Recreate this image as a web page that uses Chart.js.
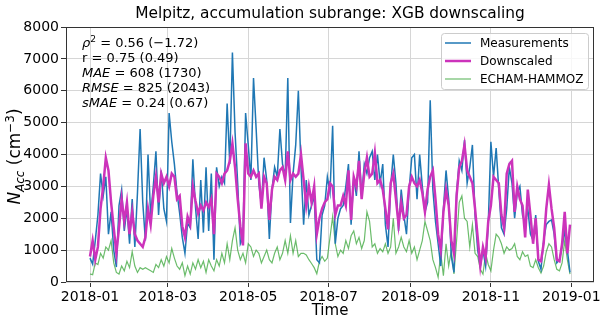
<!DOCTYPE html>
<html>
<head>
<meta charset="utf-8">
<script src="https://cdn.jsdelivr.net/npm/chart.js@4.4.0/dist/chart.umd.min.js"></script>
<style>html,body{margin:0;padding:0;background:#fff}canvas{display:block}</style>
</head>
<body>
<canvas id="chart" width="600" height="320" style="width:600px;height:320px"></canvas>
<script>
// one sample every STEP days, starting 2018-01-01 (day 0)
const STEP = 2;

// Measurements (cm^-3)
const measured = [
 750,560,1300,2100,3400,2700,3300,1500,2200,1000,470,2400,2900,1600,2300,
 1200,2600,1100,2800,4800,2500,1300,4000,2100,3000,4100,2100,3500,2300,1900,
 5300,4400,3700,2800,2150,1400,900,1850,1700,3850,2350,1350,3200,1550,3600,
 1600,3400,700,3600,3000,3300,3100,5600,3700,7200,4700,3100,1200,1400,5300,
 4300,3200,6400,4800,3100,2400,3900,3200,1350,2900,3600,3300,4800,3700,3300,
 6400,1850,3400,4300,6000,3600,1800,3200,2100,2400,2700,700,600,2100,2400,
 3300,2800,4900,1200,2000,2300,2400,3000,3700,1800,3300,2700,4100,2700,3700,
 3400,3900,4100,3200,4000,3100,3700,1800,1100,3000,4000,3100,1600,2900,2100,
 1500,2900,3900,4000,2600,4000,3000,2200,2500,5700,2900,1900,1200,500,2300,
 3500,2600,800,300,2800,3800,3500,4450,3100,3600,4300,2100,1000,500,1000,
 500,1800,4400,3300,4200,2900,1700,1500,2300,3600,3100,2000,2800,3000,2100,
 1800,2300,1500,1300,2100,650,400,1300,1800,1900,1950,1500,600,700,1100,
 1600,1000,300
];

// XGB downscaled
const downscaled = [
 800,1300,700,1100,2300,3000,3900,3500,2500,1700,900,1700,2600,1900,2500,
 1500,2200,1500,1300,1200,1100,1400,2300,1800,2700,3300,2500,3400,3100,3300,
 3000,3400,3300,2600,2700,1750,1400,2050,1800,3000,2550,2150,2400,2250,2500,
 2350,2600,1500,3400,3300,3100,3400,3500,3800,4350,3600,2600,1750,1150,4350,
 3400,3300,3500,3300,3400,2300,3300,3100,1950,2900,3300,3200,3500,3600,3200,
 4100,3200,3400,3300,3400,4000,3200,2400,3000,2500,3000,1500,2000,2300,2500,
 2600,3100,3000,2100,2400,2400,2700,2400,3500,1950,3300,3000,3800,2600,3400,
 3900,3300,3400,4050,3100,3200,2900,2300,1650,3100,3400,2600,1800,2500,2000,
 2100,3000,3300,3100,3000,3200,2800,2200,2900,3300,3500,2600,1500,1000,2200,
 2900,2400,1300,900,2700,3600,3800,4300,3500,3300,3100,2300,1400,500,1100,
 750,1900,2400,3300,3200,3100,2100,1700,3400,3700,3800,2200,3000,2600,2400,
 1400,2900,2100,1200,2000,700,650,1200,2300,3050,2300,1700,700,650,1200,
 2200,900,1800
];

// ECHAM-HAMMOZ model output
const echam = [
 250,230,600,550,900,750,1100,1000,1300,600,300,250,500,350,650,
 450,950,500,300,450,400,450,400,350,300,550,450,700,500,800,
 600,1050,750,500,400,600,200,500,250,600,400,700,450,650,300,
 700,500,350,700,500,900,600,1200,700,1300,1700,1000,700,900,600,
 1200,1100,800,1000,900,600,800,1000,700,600,900,1100,700,900,1300,
 900,1450,900,1300,800,900,900,850,700,580,450,260,650,800,650,
 750,1400,2050,1200,800,1000,900,1300,1050,1450,1600,1200,1400,1050,1300,
 2200,1900,1100,1200,900,1050,950,1200,900,1100,2000,900,1100,1400,1100,
 950,1300,900,1100,700,1000,1300,1900,1600,1300,700,450,150,900,200,
 1200,500,1000,250,1300,2500,2700,2000,1900,1100,1800,900,800,400,250,
 900,550,350,1000,1500,1400,1200,900,1100,1000,1050,1200,800,700,950,
 800,850,500,450,700,450,280,500,950,1200,1100,700,400,350,600,
 1300,700,250
];

const tickDays = [0, 59, 120, 181, 243, 304, 365];
const tickLabels = ['2018-01','2018-03','2018-05','2018-07','2018-09','2018-11','2019-01'];
const seriesNames = ['Measurements', 'Downscaled', 'ECHAM-HAMMOZ'];
const seriesColors = ['#1f77b4', '#cc33bb', 'rgba(44,160,44,0.7)'];
const seriesWidths = [1.5, 2.5, 1.2];

const FONT = '"DejaVu Sans", sans-serif';
const toPoints = arr => arr.map((v, i) => ({x: i * STEP, y: v}));

function drawRuns(ctx, runs, x, y, size) {
  let cx = x;
  runs.forEach(r => {
    const s = r.small ? size * 0.7 : size;
    ctx.font = (r.it ? 'italic ' : '') + s + 'px ' + FONT;
    ctx.fillText(r.t, cx, y + (r.dy || 0));
    cx += ctx.measureText(r.t).width;
  });
  return cx - x;
}
function runsWidth(ctx, runs, size) {
  let w = 0;
  runs.forEach(r => {
    const s = r.small ? size * 0.7 : size;
    ctx.font = (r.it ? 'italic ' : '') + s + 'px ' + FONT;
    w += ctx.measureText(r.t).width;
  });
  return w;
}

const statLines = [
  [{t:'ρ', it:true}, {t:'2', small:true, dy:-5}, {t:' = 0.56 (−1.72)'}],
  [{t:'r = 0.75 (0.49)'}],
  [{t:'MAE', it:true}, {t:' = 608 (1730)'}],
  [{t:'RMSE', it:true}, {t:' = 825 (2043)'}],
  [{t:'sMAE', it:true}, {t:' = 0.24 (0.67)'}]
];
const yLabel = [{t:'N', it:true}, {t:'Acc', it:true, small:true, dy:4}, {t:' (cm'}, {t:'−3', small:true, dy:-6}, {t:')'}];

const decor = {
  id: 'decor',
  beforeDraw(chart) {
    const ctx = chart.ctx;
    ctx.save();
    ctx.fillStyle = '#fff';
    ctx.fillRect(0, 0, chart.width, chart.height);
    ctx.restore();
  },
  afterDatasetsDraw(chart) {
    const ctx = chart.ctx, a = chart.chartArea;
    ctx.save();
    ctx.strokeStyle = '#333';
    ctx.lineWidth = 1;
    ctx.strokeRect(Math.round(a.left) + 0.5, Math.round(a.top) + 0.5,
                   Math.round(a.right - a.left) - 1, Math.round(a.bottom - a.top) - 1);
    ctx.restore();
  },
  afterDraw(chart) {
    const ctx = chart.ctx, a = chart.chartArea;
    const cx = (a.left + a.right) / 2;
    ctx.save();
    ctx.fillStyle = '#000';
    ctx.textBaseline = 'alphabetic';
    ctx.textAlign = 'center';
    ctx.font = '15.4px ' + FONT;
    ctx.fillText('Melpitz, accumulation subrange: XGB downscaling', cx, 17.5);
    ctx.font = '15px ' + FONT;
    ctx.fillText('Time', cx, 314.5);

    // y label, rotated
    ctx.textAlign = 'left';
    const ysz = 17;
    const w = runsWidth(ctx, yLabel, ysz);
    ctx.save();
    ctx.translate(19.5, (a.top + a.bottom) / 2 + 2);
    ctx.rotate(-Math.PI / 2);
    drawRuns(ctx, yLabel, -w / 2, 0, ysz);
    ctx.restore();

    // stats text
    statLines.forEach((line, i) => drawRuns(ctx, line, 82, 47 + i * 15, 13));

    // legend, anchored to the upper right of the plot
    const lx = Math.round(a.right) - 152.5, ly = 33.5, lw = 147, lh = 56;
    ctx.beginPath();
    ctx.roundRect(lx, ly, lw, lh, 3);
    ctx.fillStyle = 'rgba(255,255,255,0.8)';
    ctx.fill();
    ctx.strokeStyle = '#cccccc';
    ctx.lineWidth = 1;
    ctx.stroke();
    ctx.textBaseline = 'middle';
    ctx.font = '12px ' + FONT;
    seriesNames.forEach((name, i) => {
      const y = 43 + i * 18;
      ctx.beginPath();
      ctx.moveTo(lx + 3.5, y);
      ctx.lineTo(lx + 29.5, y);
      ctx.strokeStyle = seriesColors[i];
      ctx.lineWidth = seriesWidths[i];
      ctx.stroke();
      ctx.fillStyle = '#000';
      ctx.fillText(name, lx + 38.5, y + 0.5);
    });
    ctx.restore();
  }
};

new Chart(document.getElementById('chart'), {
  type: 'line',
  data: {
    datasets: seriesNames.map((name, i) => ({
      label: name,
      data: toPoints([measured, downscaled, echam][i]),
      borderColor: seriesColors[i],
      borderWidth: seriesWidths[i],
      pointRadius: 0,
      tension: 0,
      fill: false,
      order: [1, 0, 2][i]
    }))
  },
  options: {
    responsive: false,
    animation: false,
    devicePixelRatio: 1,
    parsing: false,
    normalized: true,
    layout: {padding: {top: 27, right: 6, left: 0, bottom: 0}},
    plugins: {legend: {display: false}, tooltip: {enabled: false}, title: {display: false}},
    scales: {
      x: {
        type: 'linear',
        min: -18.2,
        max: 382.2,
        afterBuildTicks: s => { s.ticks = tickDays.map(v => ({value: v})); },
        afterFit: s => { s.height = 38; s.paddingLeft = 0; s.paddingRight = 0; },
        ticks: {
          callback: (v, i) => tickLabels[i],
          autoSkip: false, maxRotation: 0, padding: 2,
          color: '#000', font: {family: FONT, size: 14}
        },
        grid: {color: '#d6d6d6', tickColor: '#333', tickLength: 5},
        border: {display: false}
      },
      y: {
        min: 0,
        max: 8000,
        afterFit: s => { s.width = 66; s.paddingTop = 0; s.paddingBottom = 0; },
        ticks: {
          stepSize: 1000, padding: 2, color: '#000',
          font: {family: FONT, size: 14},
          callback: v => String(v)
        },
        grid: {color: '#d6d6d6', tickColor: '#333', tickLength: 5},
        border: {display: false}
      }
    }
  },
  plugins: [decor]
});
</script>
</body>
</html>
